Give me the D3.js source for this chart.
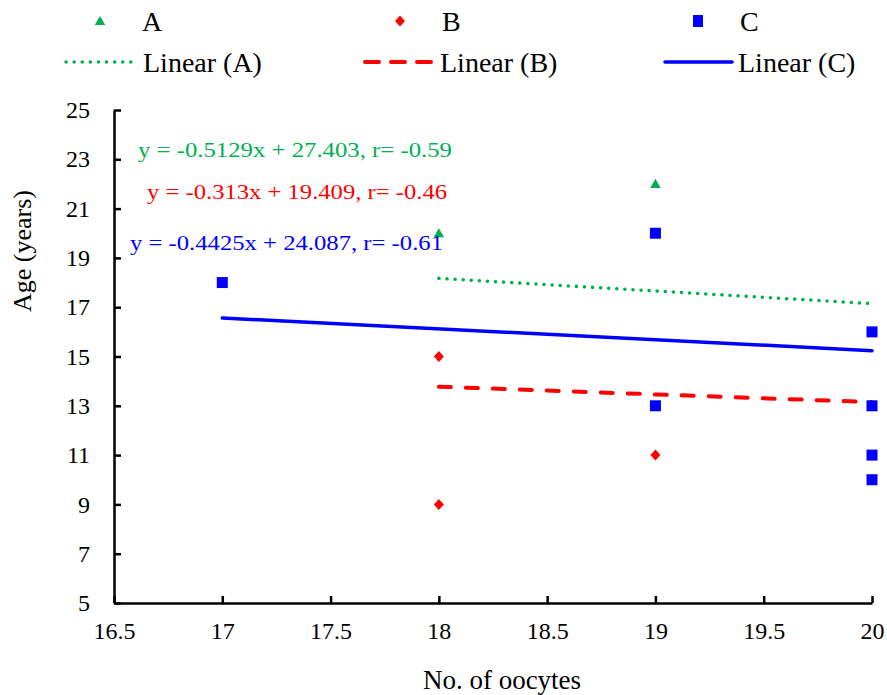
<!DOCTYPE html>
<html>
<head>
<meta charset="utf-8">
<script src="https://cdn.jsdelivr.net/npm/d3@7"></script>
<style>
  body { margin: 0; background: #fff; }
  text { font-family: "Liberation Serif", "DejaVu Serif", serif; }
</style>
</head>
<body>
<div id="chart"></div>
<script>
// data
var seriesA = [{x: 18, y: 20}, {x: 19, y: 22}];
var seriesB = [{x: 18, y: 15}, {x: 18, y: 9}, {x: 19, y: 11}];
var seriesC = [{x: 17, y: 18}, {x: 19, y: 20}, {x: 19, y: 13}, {x: 20, y: 16},
               {x: 20, y: 13}, {x: 20, y: 11}, {x: 20, y: 10}];
// trend lines: slope, intercept, r, x range
var trendA = {m: -0.5129, b: 27.403, r: -0.59, from: 18, to: 20};
var trendB = {m: -0.313, b: 19.409, r: -0.46, from: 18, to: 20};
var trendC = {m: -0.4425, b: 24.087, r: -0.61, from: 17, to: 20};
var xTicks = [16.5, 17, 17.5, 18, 18.5, 19, 19.5, 20];
var yTicks = [5, 7, 9, 11, 13, 15, 17, 19, 21, 23, 25];

var width = 887, height = 695;
var margin = {top: 110, right: 15, bottom: 92, left: 114};

var svg = d3.select("#chart").append("svg")
    .attr("width", width)
    .attr("height", height);

var x = d3.scaleLinear().domain([16.5, 20]).range([margin.left, width - margin.right]);
var y = d3.scaleLinear().domain([5, 25]).range([height - margin.bottom, margin.top]);

var green = "#00b050", red = "#ff0000", blue = "#0000ff";
var serif = '"Liberation Serif", "DejaVu Serif", serif';

//axes
var xAxis = svg.append("g")
    .attr("transform", "translate(0," + y(5) + ")")
    .call(d3.axisBottom(x).tickValues(xTicks).tickSizeInner(-7).tickSizeOuter(0)
        .tickPadding(17).tickFormat(d3.format("")));
var yAxis = svg.append("g")
    .attr("transform", "translate(" + x(16.5) + ",0)")
    .call(d3.axisLeft(y).tickValues(yTicks).tickSizeInner(-7).tickSizeOuter(0)
        .tickPadding(20));

[xAxis, yAxis].forEach(function(ax){
  ax.attr("font-family", serif).attr("font-size", 24);
  ax.select(".domain").attr("stroke", "#000").attr("stroke-width", 2.5);
  ax.selectAll(".tick line").attr("stroke", "#000").attr("stroke-width", 2.5);
  ax.selectAll(".tick text").attr("fill", "#000")
      .style("font-family", serif).style("font-size", "24px");
});
xAxis.selectAll(".tick text").attr("dy", "0.8em");
yAxis.selectAll(".tick text").attr("dx", "-4");

svg.append("text")
    .attr("x", 502)
    .attr("y", 689)
    .attr("text-anchor", "middle")
    .style("font-size", "27px")
    .text("No. of oocytes");
svg.append("text")
    .attr("transform", "translate(31,251) rotate(-90)")
    .attr("text-anchor", "middle")
    .style("font-size", "26px")
    .text("Age (years)");

//trend lines
function drawTrend(t, color, dash, w){
  var pts = [t.from, t.to].map(function(v){ return [x(v), y(t.m * v + t.b)]; });
  svg.append("path")
      .attr("d", d3.line()(pts))
      .attr("stroke", color)
      .attr("stroke-width", w)
      .attr("stroke-dasharray", dash)
      .attr("stroke-linecap", "round")
      .attr("fill", "none");
}
drawTrend(trendA, green, "0.1 8", 3.5);
drawTrend(trendB, red, "12 15", 4);
drawTrend(trendC, blue, null, 3.5);

//points
var tri = d3.symbol().type(d3.symbolTriangle).size(48);
var dia = "M0,-5.5L5,0L0,5.5L-5,0Z";

svg.selectAll(".ptC").data(seriesC).enter().append("rect")
    .attr("x", function(d){ return x(d.x) - 5.5; })
    .attr("y", function(d){ return y(d.y) - 5.5; })
    .attr("width", 11).attr("height", 11)
    .attr("fill", blue);
svg.selectAll(".ptB").data(seriesB).enter().append("path")
    .attr("d", dia)
    .attr("transform", function(d){ return "translate(" + x(d.x) + "," + y(d.y) + ")"; })
    .attr("fill", red);
svg.selectAll(".ptA").data(seriesA).enter().append("path")
    .attr("d", tri)
    .attr("transform", function(d){ return "translate(" + x(d.x) + "," + (y(d.y) + 1) + ")"; })
    .attr("fill", green);

//equations
function eq(t){
  return "y = " + t.m + "x + " + t.b.toFixed(3) + ", r= " + t.r;
}
var eqs = [
  {t: trendA, color: green, x: 138, y: 157, w: 314},
  {t: trendB, color: red, x: 147, y: 199, w: 300},
  {t: trendC, color: blue, x: 130, y: 250, w: 313}
];
svg.selectAll(".eq").data(eqs).enter().append("text")
    .attr("x", function(d){ return d.x; })
    .attr("y", function(d){ return d.y; })
    .attr("fill", function(d){ return d.color; })
    .attr("textLength", function(d){ return d.w; })
    .attr("lengthAdjust", "spacingAndGlyphs")
    .style("font-size", "21px")
    .text(function(d){ return eq(d.t); });

//legend
var leg = svg.append("g");
leg.append("path").attr("d", tri).attr("transform", "translate(100,22)").attr("fill", green);
leg.append("path").attr("d", dia).attr("transform", "translate(400,21)").attr("fill", red);
leg.append("rect").attr("x", 693).attr("y", 15).attr("width", 10).attr("height", 12).attr("fill", blue);

var legText = [
  {label: "A", x: 142, y: 31}, {label: "B", x: 442, y: 31}, {label: "C", x: 740, y: 31},
  {label: "Linear (A)", x: 143, y: 72}, {label: "Linear (B)", x: 440, y: 72}, {label: "Linear (C)", x: 738, y: 72}
];
leg.selectAll("text").data(legText).enter().append("text")
    .attr("x", function(d){ return d.x; })
    .attr("y", function(d){ return d.y; })
    .style("font-size", "28px")
    .text(function(d){ return d.label; });

var legLines = [
  {x1: 66, x2: 132, color: green, dash: "0.1 8", w: 3.5},
  {x1: 365, x2: 432, color: red, dash: "14 12", w: 4},
  {x1: 665, x2: 732, color: blue, dash: null, w: 3.5}
];
leg.selectAll("line").data(legLines).enter().append("line")
    .attr("x1", function(d){ return d.x1; })
    .attr("x2", function(d){ return d.x2; })
    .attr("y1", 62).attr("y2", 62)
    .attr("stroke", function(d){ return d.color; })
    .attr("stroke-width", function(d){ return d.w; })
    .attr("stroke-dasharray", function(d){ return d.dash; })
    .attr("stroke-linecap", "round");
</script>
</body>
</html>
